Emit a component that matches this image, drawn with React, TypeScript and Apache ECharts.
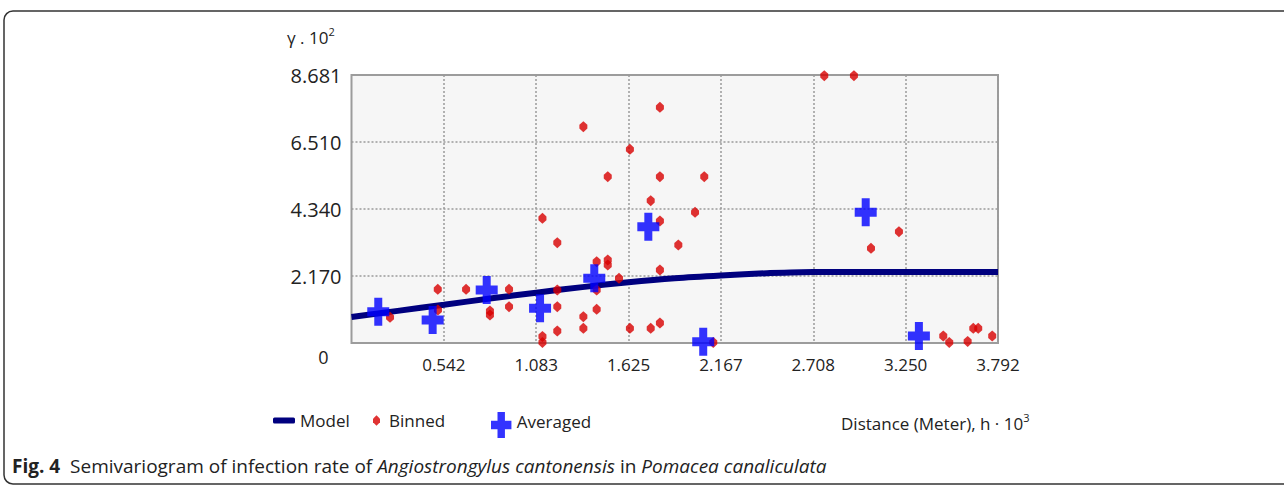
import React, { useEffect, useRef } from "react";
import * as echarts from "echarts";

// ---- data ----
const xTickLabels = ["0", "0.542", "1.083", "1.625", "2.167", "2.708", "3.250", "3.792"];
const yTickLabels = ["0", "2.170", "4.340", "6.510", "8.681"];
const xMax = 3.792;
const xInterval = 0.541714;
const yMax = 8.681;
const yInterval = 2.17025;

// Model curve (read at several distances)
const modelX = [0, 0.271, 0.542, 0.812, 1.083, 1.354, 1.625, 1.896, 2.167, 2.437, 2.708, 3.0, 3.792];
const modelY = [0.84, 1.04, 1.24, 1.44, 1.63, 1.81, 1.97, 2.1, 2.19, 2.26, 2.3, 2.3, 2.3];

// Binned points
const binnedX = [
  0.226, 0.506, 0.507, 0.672, 0.812, 0.812, 0.924, 0.924, 1.12, 1.207,
  1.207, 1.207, 1.207, 1.12, 1.12, 1.36, 1.36, 1.36, 1.438, 1.438,
  1.438, 1.503, 1.503, 1.503, 1.569, 1.633, 1.633, 1.755, 1.755, 1.809,
  1.809, 1.809, 1.809, 1.809, 1.917, 2.015, 2.069, 2.122, 2.773, 2.947,
  3.047, 3.211, 3.471, 3.506, 3.614, 3.647, 3.676, 3.758,
];
const binnedY = [
  0.832, 1.739, 1.069, 1.739, 1.036, 0.907, 1.739, 1.176, 4.039, 3.249,
  1.717, 1.176, 0.389, 0.211, 0.02, 7.006, 0.852, 0.476, 2.633, 1.717,
  1.092, 5.386, 2.688, 2.526, 2.096, 6.274, 0.476, 4.609, 0.476, 7.634,
  5.386, 3.952, 2.364, 0.648, 3.174, 4.233, 5.386, 0.02, 8.66, 8.66,
  3.067, 3.605, 0.227, 0.02, 0.05, 0.476, 0.476, 0.227,
];

// Averaged points
const avgX = [0.157, 0.476, 0.793, 1.106, 1.424, 1.741, 2.063, 3.016, 3.328];
const avgY = [1.014, 0.745, 1.717, 1.124, 2.096, 3.767, 0.042, 4.233, 0.227];

const FONT = "'Open Sans', 'Noto Sans', sans-serif";
const RED = "#d80000";
const BLUE = "#0000ff";
const NAVY = "#00007f";
const CROSS = "path://M7,0 H15 V9.5 H22 V18.5 H15 V28 H7 V18.5 H0 V9.5 H7 Z";
const HEX = "path://M4,0 L7.6,3.6 L7.6,7.4 L4,11 L0.4,7.4 L0.4,3.6 Z";

export default function App() {
  const ref = useRef<HTMLDivElement>(null);

  useEffect(() => {
    document.body.style.margin = "0";
    const chart = echarts.init(ref.current!, undefined, { renderer: "svg" });

    const option: any = {
      animation: false,
      backgroundColor: "#ffffff",
      textStyle: { fontFamily: FONT },
      grid: {
        left: 351.5,
        right: 286,
        top: 75,
        bottom: 142,
        show: true,
        backgroundColor: "#f6f6f6",
        borderColor: "#9c9c9c",
        borderWidth: 2,
      },
      xAxis: {
        type: "value",
        min: 0,
        max: xMax,
        interval: xInterval,
        axisLine: { show: false },
        axisTick: { show: false },
        splitLine: {
          show: true,
          showMinLine: false,
          showMaxLine: false,
          lineStyle: { color: "#9a9a9a", type: [2, 2], width: 1.5 },
        },
        axisLabel: {
          margin: 13,
          fontSize: 17,
          color: "#222",
          fontFamily: FONT,
          showMinLabel: true,
          showMaxLabel: true,
          formatter: (v: number) => {
            const i = Math.round(v / xInterval);
            return i === 0 ? "" : xTickLabels[i] ?? "";
          },
        },
      },
      yAxis: {
        type: "value",
        min: 0,
        max: yMax,
        interval: yInterval,
        axisLine: { show: false },
        axisTick: { show: false },
        splitLine: {
          show: true,
          showMinLine: false,
          showMaxLine: false,
          lineStyle: { color: "#9a9a9a", type: [2, 2], width: 1.5 },
        },
        axisLabel: {
          margin: 10,
          fontSize: 20,
          color: "#222",
          fontFamily: FONT,
          showMinLabel: true,
          showMaxLabel: true,
          formatter: (v: number) => {
            const i = Math.round(v / yInterval);
            return i === 0 ? "{zero|" + yTickLabels[0] + "}" : yTickLabels[i] ?? "";
          },
          rich: {
            zero: { fontSize: 18, color: "#222", fontFamily: FONT, padding: [28, 13, 0, 0] },
          },
        },
      },
      legend: [
        {
          left: 273,
          top: 412,
          padding: 0,
          itemWidth: 22,
          itemHeight: 6,
          itemGap: 0,
          textStyle: { fontSize: 17, color: "#222", fontFamily: FONT },
          data: [{ name: "Model", icon: "roundRect" }],
        },
        {
          left: 373,
          top: 412,
          padding: 0,
          itemWidth: 7,
          itemHeight: 11,
          formatter: "{a|{name}}",
          textStyle: {
            fontSize: 17,
            color: "#222",
            fontFamily: FONT,
            rich: { a: { fontSize: 17, color: "#222", fontFamily: FONT, padding: [0, 0, 0, 4] } },
          },
          data: [{ name: "Binned", icon: HEX }],
        },
        {
          left: 491,
          top: 412,
          padding: 0,
          itemWidth: 21,
          itemHeight: 26,
          formatter: "{a|{name}}",
          textStyle: {
            fontSize: 17,
            color: "#222",
            fontFamily: FONT,
            rich: { a: { fontSize: 17, color: "#222", fontFamily: FONT, padding: [0, 0, 8, 0] } },
          },
          data: [{ name: "Averaged", icon: CROSS }],
        },
      ],
      series: [
        {
          name: "Model",
          type: "line",
          smooth: 0.3,
          showSymbol: false,
          symbol: "none",
          color: NAVY,
          lineStyle: { color: NAVY, width: 6 },
          data: modelX.map((x, i) => [x, modelY[i]]),
          z: 2,
        },
        {
          name: "Binned",
          type: "scatter",
          symbol: HEX,
          symbolSize: [8, 11],
          color: RED,
          itemStyle: { color: RED },
          clip: false,
          data: binnedX.map((x, i) => [x, binnedY[i]]),
          z: 3,
        },
        {
          name: "Averaged",
          type: "scatter",
          symbol: CROSS,
          symbolSize: [22, 28],
          color: BLUE,
          itemStyle: { color: BLUE },
          clip: false,
          data: avgX.map((x, i) => [x, avgY[i]]),
          z: 4,
        },
      ],
      graphic: [
        {
          type: "rect",
          silent: true,
          shape: { x: 4, y: 11, width: 1300, height: 473, r: 9 },
          style: { fill: "none", stroke: "#333", lineWidth: 1.5 },
          z: -10,
        },
        {
          type: "text",
          x: 287,
          y: 37,
          style: {
            text: "{n|γ . 10}{s|2}",
            verticalAlign: "middle",
            rich: {
              n: { fontSize: 17, fill: "#222", fontFamily: FONT, lineHeight: 22 },
              s: { fontSize: 11, fill: "#222", fontFamily: FONT, verticalAlign: "top", lineHeight: 22 },
            },
          },
        },
        {
          type: "text",
          x: 841,
          y: 423,
          style: {
            text: "{n|Distance (Meter), h · 10}{s|3}",
            verticalAlign: "middle",
            rich: {
              n: { fontSize: 17, fill: "#222", fontFamily: FONT, lineHeight: 22 },
              s: { fontSize: 11, fill: "#222", fontFamily: FONT, verticalAlign: "top", lineHeight: 22 },
            },
          },
        },
        {
          type: "text",
          x: 12,
          y: 466,
          style: {
            text:
              "{b|Fig. 4}{n|  Semivariogram of infection rate of }{i|Angiostrongylus cantonensis}{n| in }{i|Pomacea canaliculata}",
            verticalAlign: "middle",
            rich: {
              b: { fontSize: 19, fontWeight: "bold", fill: "#222", fontFamily: FONT },
              n: { fontSize: 19, fill: "#222", fontFamily: FONT },
              i: { fontSize: 19, fontStyle: "italic", fill: "#222", fontFamily: FONT },
            },
          },
        },
      ],
    };

    chart.setOption(option);
    return () => chart.dispose();
  }, []);

  return (
    <div
      ref={ref}
      style={{ position: "fixed", left: 0, top: 0, width: 1284, height: 485 }}
    />
  );
}
